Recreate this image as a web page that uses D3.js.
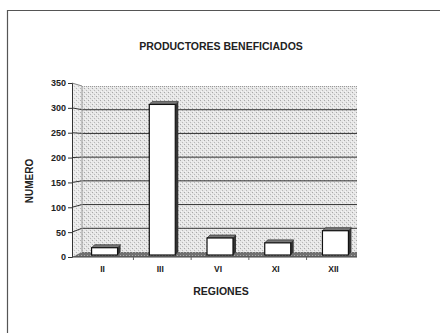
<!DOCTYPE html>
<html><head><meta charset="utf-8">
<script src="https://cdn.jsdelivr.net/npm/d3@7"></script>
<style>body{margin:0;background:#fff}svg{display:block}text{font-family:"Liberation Sans",Arial,sans-serif;font-weight:bold;fill:#222}</style>
</head><body>
<script>
const categories = ["II", "III", "VI", "XI", "XII"];
const values = [15, 310, 35, 25, 50];
const yTicks = [0, 50, 100, 150, 200, 250, 300, 350];
const title = "PRODUCTORES BENEFICIADOS";
const xTitle = "REGIONES";
const yTitle = "NUMERO";

const W = 440, H = 333;
const svg = d3.select("body").append("svg").attr("width", W).attr("height", H);
const defs = svg.append("defs");
const pat = defs.append("pattern").attr("id", "dots").attr("patternUnits", "userSpaceOnUse").attr("width", 4).attr("height", 4);
pat.append("rect").attr("width", 4).attr("height", 4).attr("fill", "#e6e6e6");
pat.append("rect").attr("x", 0).attr("y", 0).attr("width", 1).attr("height", 1).attr("fill", "#a8a8a8");
pat.append("rect").attr("x", 2).attr("y", 2).attr("width", 1).attr("height", 1).attr("fill", "#b8b8b8");
pat.append("rect").attr("x", 1).attr("y", 3).attr("width", 1).attr("height", 1).attr("fill", "#f6f6f6");
pat.append("rect").attr("x", 3).attr("y", 1).attr("width", 1).attr("height", 1).attr("fill", "#f2f2f2");
const fpat = defs.append("pattern").attr("id", "floor").attr("patternUnits", "userSpaceOnUse").attr("width", 3).attr("height", 3);
fpat.append("rect").attr("width", 3).attr("height", 3).attr("fill", "#707070");
fpat.append("rect").attr("width", 1).attr("height", 1).attr("fill", "#aaa");

// outer border
svg.append("path").attr("d", "M7.5,333 V10.5 H440").attr("fill", "none").attr("stroke", "#555").attr("stroke-width", 1.2);

const axX = 72, backX = 82, rightX = 357;
const yFront = d3.scaleLinear().domain([0, 350]).range([257, 83]);
const yBack = d3.scaleLinear().domain([0, 350]).range([252, 86]);
const yMid = d3.scaleLinear().domain([0, 350]).range([255, 85]);
const x = d3.scaleBand().domain(categories).range([76, 364]).paddingInner(0.55).paddingOuter(0.27);

// side wall
svg.append("path").attr("d", `M${axX},${yFront(0)} L${axX},${yFront(350)} L${backX},${yBack(350)} L${backX},${yBack(0)} Z`)
  .attr("fill", "url(#dots)").attr("opacity", 0.85);
// back wall
svg.append("rect").attr("x", backX).attr("y", yBack(350)).attr("width", rightX - backX).attr("height", yBack(0) - yBack(350))
  .attr("fill", "url(#dots)");
// floor
svg.append("path").attr("d", `M${axX},${yFront(0)} L${backX},${yBack(0)} L${rightX},${yBack(0)} L${rightX},${yFront(0)} Z`)
  .attr("fill", "url(#floor)");

const grid = svg.append("g");
yTicks.filter(t => t > 0 && t < 350).forEach(t => {
  grid.append("line").attr("x1", backX).attr("x2", rightX).attr("y1", yBack(t)).attr("y2", yBack(t)).attr("stroke", "#333").attr("stroke-width", 1);
  grid.append("line").attr("x1", axX).attr("x2", backX).attr("y1", yFront(t)).attr("y2", yBack(t)).attr("stroke", "#333").attr("stroke-width", 1);
});
grid.append("line").attr("x1", axX).attr("x2", backX).attr("y1", yFront(350)).attr("y2", yBack(350)).attr("stroke", "#888");
grid.append("line").attr("x1", backX).attr("x2", rightX).attr("y1", yBack(350) + 0.5).attr("y2", yBack(350) + 0.5).attr("stroke", "#999").attr("stroke-dasharray", "1,1");
grid.append("line").attr("x1", backX).attr("x2", backX).attr("y1", yBack(350)).attr("y2", yBack(0)).attr("stroke", "#999");

// y axis
const yAxis = svg.append("g").attr("transform", `translate(${axX},0)`)
  .call(d3.axisLeft(yFront).tickValues(yTicks).tickSize(4).tickPadding(2));
yAxis.select(".domain").attr("stroke", "#333");
yAxis.selectAll(".tick line").attr("stroke", "#333");
yAxis.selectAll("text").attr("font-size", 9).attr("fill", "#222");

// x axis
const xAxis = svg.append("g").attr("transform", `translate(0,${yFront(0)})`);
xAxis.append("line").attr("x1", axX).attr("x2", rightX).attr("stroke", "#444");
const bounds = categories.slice(1).map(c => x(c) - x.step() * x.paddingInner() / 2);
bounds.forEach(b => xAxis.append("line").attr("x1", b).attr("x2", b).attr("y1", 0).attr("y2", 3).attr("stroke", "#666"));
xAxis.selectAll("text.cat").data(categories).join("text").attr("class", "cat")
  .attr("x", d => x(d) + x.bandwidth() / 2 - 2).attr("y", 15).attr("text-anchor", "middle").attr("font-size", 8.5).attr("fill", "#222").text(d => d);

// bars (3D)
const dx = 3, dy = 3;
const bars = svg.append("g");
categories.forEach((c, i) => {
  const x0 = x(c), w = x.bandwidth(), yt = yMid(values[i]), yb = yMid(0);
  bars.append("path").attr("d", `M${x0 + w},${yt} L${x0 + w + dx},${yt - dy} L${x0 + w + dx},${yb - dy} L${x0 + w},${yb} Z`).attr("fill", "#333");
  bars.append("path").attr("d", `M${x0},${yt} L${x0 + dx},${yt - dy} L${x0 + w + dx},${yt - dy} L${x0 + w},${yt} Z`).attr("fill", "#777").attr("stroke", "#222").attr("stroke-width", 0.6);
  bars.append("rect").attr("x", x0).attr("y", yt).attr("width", w).attr("height", yb - yt)
    .attr("fill", "#fff").attr("stroke", "#111").attr("stroke-width", 1.2);
});

// titles
svg.append("text").attr("x", 221).attr("y", 50).attr("text-anchor", "middle").attr("font-size", 10.5).text(title);
svg.append("text").attr("x", 221).attr("y", 295).attr("text-anchor", "middle").attr("font-size", 10.5).text(xTitle);
svg.append("text").attr("transform", "translate(33,181) rotate(-90)").attr("text-anchor", "middle").attr("font-size", 10).text(yTitle);
</script>
</body></html>
